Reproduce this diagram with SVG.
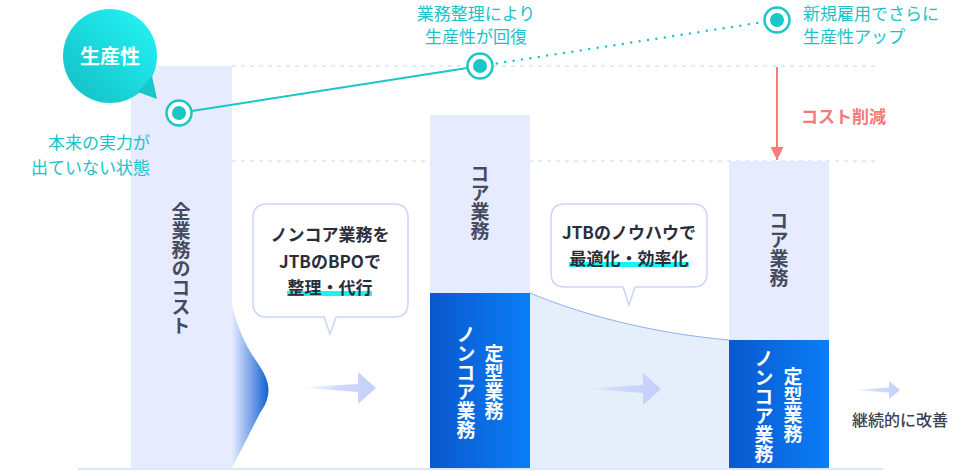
<svg xmlns="http://www.w3.org/2000/svg" width="960" height="471" viewBox="0 0 960 471">
<defs>
<linearGradient id="gBubble" x1="1" y1="0" x2="0" y2="1">
<stop offset="0" stop-color="#24f7f8"/>
<stop offset="1" stop-color="#12bcc3"/>
</linearGradient>
<linearGradient id="gBlue" x1="0" y1="0" x2="1" y2="0">
<stop offset="0" stop-color="#0a58cc"/>
<stop offset="1" stop-color="#0a7ef7"/>
</linearGradient>
<linearGradient id="gWave" gradientUnits="userSpaceOnUse" x1="232" y1="0" x2="270" y2="0">
<stop offset="0" stop-color="#e6ebfd"/>
<stop offset="1" stop-color="#0a5ad2"/>
</linearGradient>
<linearGradient id="gArrow" x1="0" y1="0" x2="1" y2="0">
<stop offset="0" stop-color="#c4d0fb" stop-opacity="0"/>
<stop offset="0.5" stop-color="#c4d0fb" stop-opacity="0.8"/>
<stop offset="1" stop-color="#c4d0fb"/>
</linearGradient>
<marker id="mRed" viewBox="0 0 10 10" refX="10" refY="5" markerWidth="13" markerHeight="13" markerUnits="userSpaceOnUse" orient="auto">
<path d="M0,0 L10,5 L0,10 Z" fill="#f47d7d"/>
</marker>
</defs>
<style>
text{font-family:"Noto Sans CJK JP","Noto Sans",sans-serif;}
.teal{fill:#1bc2c8;font-size:17px;}
.vt{writing-mode:vertical-rl;font-size:19px;font-weight:700;}
.dark{fill:#454a60;}
.white{fill:#ffffff;}
.call{fill:#2a2e3a;font-size:17px;font-weight:600;text-anchor:middle;}
.box{fill:#ffffff;stroke:#c9d5fa;stroke-width:1.5;}
.dash{stroke:#c9d4f5;stroke-width:1;stroke-dasharray:4 5;fill:none;}
.bar{fill:#e6ebfd;}
.hl{fill:#19f3f3;}
.ring{fill:#ffffff;stroke:#1bc6c9;stroke-width:2.5;}
.dot{fill:#1bc6c9;}
</style>

<rect x="0" y="0" width="960" height="471" fill="#ffffff"/>

<!-- guide lines -->
<g id="guides">
<line class="dash" x1="232" y1="66" x2="880" y2="66"/>
<line class="dash" x1="232" y1="161" x2="880" y2="161"/>
<rect x="78" y="468" width="805" height="2" fill="#dfe6fb"/>
</g>

<!-- Bar 1: all work cost -->
<g id="bar-all">
<rect class="bar" x="131" y="66" width="101" height="402"/>
<path d="M231,300 C236,325 245,345 257,362 C266,375 270,385 268,395 C267,402 264,407 260,413 L232,468 Z" fill="url(#gWave)"/>
<text class="vt dark" x="181" y="202">全業務のコスト</text>
</g>

<!-- Bar 2 -->
<g id="bar-mid">
<path d="M530,293 C580,314 650,333 729,340 L729,468 L530,468 Z" fill="#e5eefb"/>
<path d="M530,293 C580,314 650,333 729,340" fill="none" stroke="#8db3ee" stroke-width="1"/>
<rect class="bar" x="430" y="115" width="100" height="178"/>
<rect x="430" y="293" width="100" height="175" fill="url(#gBlue)"/>
<text class="vt dark" x="480" y="164">コア業務</text>
<text class="vt white" x="466" y="325">ノンコア業務</text>
<text class="vt white" x="494" y="344">定型業務</text>
</g>

<!-- Bar 3 -->
<g id="bar-after">
<rect class="bar" x="729" y="161" width="100" height="179"/>
<rect x="729" y="340" width="100" height="128" fill="url(#gBlue)"/>
<text class="vt dark" x="779" y="211">コア業務</text>
<text class="vt white" x="764" y="349">ノンコア業務</text>
<text class="vt white" x="793" y="367">定型業務</text>
</g>

<!-- connectors -->
<g id="connectors">
<line x1="179" y1="113" x2="480" y2="66" stroke="#1bc6c9" stroke-width="2"/>
<line x1="480" y1="66" x2="777" y2="20" stroke="#1bc6c9" stroke-width="2.5" stroke-linecap="round" stroke-dasharray="0 8.5"/>
<line x1="777" y1="67" x2="777" y2="160" stroke="#f47d7d" stroke-width="2" marker-end="url(#mRed)"/>
<path d="M300,387.5 L358,384 L358,372 L376,388 L358,404 L358,392 Z" fill="url(#gArrow)"/>
<path d="M585,388.5 L643,385 L643,373 L661,389 L643,405 L643,393 Z" fill="url(#gArrow)"/>
<path d="M853,390 L889,387.5 L889,381 L900,390 L889,399 L889,392.5 Z" fill="url(#gArrow)"/>
</g>

<!-- productivity bubble -->
<g id="bubble-productivity">
<circle cx="110" cy="56" r="47" fill="url(#gBubble)"/>
<path d="M138,92 L157,99 L152,76 Z" fill="#16c7cc"/>
<text x="110" y="64" font-size="20" font-weight="700" fill="#ffffff" text-anchor="middle">生産性</text>
</g>

<!-- points -->
<g id="point-1">
<circle class="ring" cx="179" cy="113" r="12.5"/>
<circle class="dot" cx="179" cy="113" r="7"/>
<text class="teal" x="150" y="149" text-anchor="end">本来の実力が</text>
<text class="teal" x="150" y="174" text-anchor="end">出ていない状態</text>
</g>
<g id="point-2">
<circle class="ring" cx="480" cy="66" r="12.5"/>
<circle class="dot" cx="480" cy="66" r="7"/>
<text class="teal" x="476" y="19.5" text-anchor="middle">業務整理により</text>
<text class="teal" x="476" y="43" text-anchor="middle">生産性が回復</text>
</g>
<g id="point-3">
<circle class="ring" cx="777" cy="20" r="12.5"/>
<circle class="dot" cx="777" cy="20" r="7"/>
<text class="teal" x="803" y="19.5">新規雇用でさらに</text>
<text class="teal" x="803" y="43">生産性アップ</text>
</g>

<g id="label-cost-cut">
<text x="801" y="123" font-size="17" font-weight="700" fill="#f27a7a">コスト削減</text>
</g>

<!-- callout 1 -->
<g id="callout-bpo">
<path class="box" d="M267,204 H394 Q408,204 408,218 V303 Q408,317 394,317 H336 L330,334 L324,317 H267 Q253,317 253,303 V218 Q253,204 267,204 Z"/>
<rect class="hl" x="287" y="291" width="85" height="5"/>
<text class="call" x="330" y="241">ノンコア業務を</text>
<text class="call" x="330" y="268">JTBのBPOで</text>
<text class="call" x="330" y="294" font-weight="700">整理・代行</text>
</g>

<!-- callout 2 -->
<g id="callout-knowhow">
<path class="box" d="M565,204 H693 Q707,204 707,218 V273 Q707,287 693,287 H635 L629,305 L623,287 H565 Q551,287 551,273 V218 Q551,204 565,204 Z"/>
<rect class="hl" x="569" y="262" width="120" height="5"/>
<text class="call" x="629" y="239">JTBのノウハウで</text>
<text class="call" x="629" y="265" font-weight="700">最適化・効率化</text>
</g>

<g id="label-continuous">
<text x="852" y="426" font-size="16" font-weight="500" fill="#3c4053">継続的に改善</text>
</g>
</svg>
